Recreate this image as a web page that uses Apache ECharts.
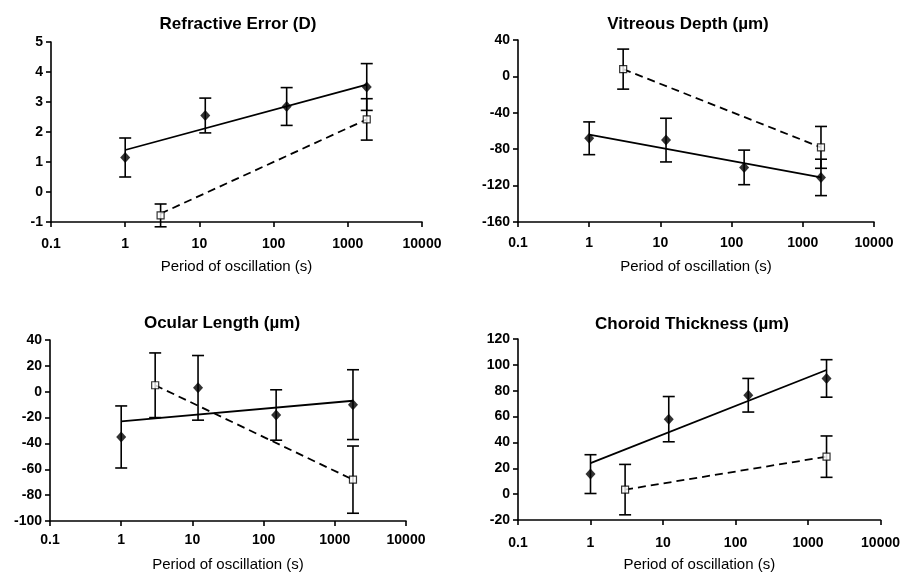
<!DOCTYPE html>
<html>
<head>
<meta charset="utf-8">
<script src="https://cdn.jsdelivr.net/npm/echarts@6/dist/echarts.min.js"></script>
<style>
  html, body { margin: 0; padding: 0; background: #fff; }
  #chart { width: 903px; height: 573px; }
</style>
</head>
<body>
<div id="chart"></div>
<script>
// periods (s) for the two groups
const periodsFilled = [1, 12, 150, 1800];
const periodsOpen = [3, 1800];
const xTicks = [0.1, 1, 10, 100, 1000, 10000];

// refractive error (D)
const refFilled = [1.15, 2.55, 2.85, 3.5];
const refFilledErr = [0.65, 0.58, 0.63, 0.78];
const refOpen = [-0.78, 2.42];
const refOpenErr = [0.38, 0.69];
const refFitFilled = [1.4, 3.58];
const refFitOpen = [-0.72, 2.42];

// vitreous depth (um)
const vitFilled = [-68, -70, -100, -111];
const vitFilledErr = [18, 24, 19, 20];
const vitOpen = [8, -78];
const vitOpenErr = [22, 23];
const vitFitFilled = [-64, -111];
const vitFitOpen = [8, -78];

// ocular length (um)
const ocuFilled = [-35, 3, -18, -10];
const ocuFilledErr = [24, 25, 19.5, 27];
const ocuOpen = [5, -68];
const ocuOpenErr = [25, 26];
const ocuFitFilled = [-23, -7];
const ocuFitOpen = [5, -68];

// choroid thickness (um)
const choFilled = [15.5, 58, 76.5, 89.5];
const choFilledErr = [15, 17.5, 13, 14.5];
const choOpen = [3.5, 29];
const choOpenErr = [19.5, 16];
const choFitFilled = [24, 96];
const choFitOpen = [3.5, 29];

const panels = [
  { title: "Refractive Error (D)", min: -1, max: 5, step: 1,
    grid: { left: 51, top: 42, width: 371, height: 180 }, tx: 233, ty: 11,
    lblMargin: 15, nameGap: 37,
    filled: refFilled, filledErr: refFilledErr, open: refOpen, openErr: refOpenErr,
    fitF: refFitFilled, fitO: refFitOpen },
  { title: "Vitreous Depth (\u00b5m)", min: -160, max: 40, step: 40,
    grid: { left: 518, top: 40, width: 356, height: 182 }, tx: 683, ty: 11,
    lblMargin: 14, nameGap: 37,
    filled: vitFilled, filledErr: vitFilledErr, open: vitOpen, openErr: vitOpenErr,
    fitF: vitFitFilled, fitO: vitFitOpen },
  { title: "Ocular Length (\u00b5m)", min: -100, max: 40, step: 20,
    grid: { left: 50, top: 340, width: 356, height: 182 }, tx: 217, ty: 310,
    lblMargin: 12, nameGap: 36,
    filled: ocuFilled, filledErr: ocuFilledErr, open: ocuOpen, openErr: ocuOpenErr,
    fitF: ocuFitFilled, fitO: ocuFitOpen },
  { title: "Choroid Thickness (\u00b5m)", min: -20, max: 120, step: 20,
    grid: { left: 518, top: 339, width: 364, height: 182 }, tx: 687, ty: 311,
    lblMargin: 16, nameGap: 37,
    filled: choFilled, filledErr: choFilledErr, open: choOpen, openErr: choOpenErr,
    fitF: choFitFilled, fitO: choFitOpen }
];

const FONT = "Liberation Sans, Arial, sans-serif";

function errorBars(api) {
  const x = api.value(0), y = api.value(1), e = api.value(2);
  const top = api.coord([x, y + e]);
  const bot = api.coord([x, y - e]);
  const half = 6;
  const style = { stroke: "#000", lineWidth: 1.6 };
  return {
    type: "group",
    children: [
      { type: "line", shape: { x1: top[0], y1: top[1], x2: bot[0], y2: bot[1] }, style },
      { type: "line", shape: { x1: top[0] - half, y1: top[1], x2: top[0] + half, y2: top[1] }, style },
      { type: "line", shape: { x1: bot[0] - half, y1: bot[1], x2: bot[0] + half, y2: bot[1] }, style }
    ]
  };
}

const option = {
  animation: false,
  title: [],
  grid: [],
  xAxis: [],
  yAxis: [],
  series: []
};

panels.forEach((p, i) => {
  option.title.push({
    text: p.title, left: p.tx, top: p.ty, textAlign: "center",
    textStyle: { fontFamily: FONT, fontSize: 17, fontWeight: "bold", color: "#000" }
  });
  option.grid.push(p.grid);
  option.xAxis.push({
    gridIndex: i, type: "log", logBase: 10, min: 0.1, max: 10000,
    name: "Period of oscillation (s)", nameLocation: "middle", nameGap: p.nameGap,
    nameTextStyle: { fontFamily: FONT, fontSize: 15, color: "#000" },
    axisLine: { onZero: false, lineStyle: { color: "#000", width: 1.6 } },
    axisTick: { inside: false, length: 5, lineStyle: { color: "#000", width: 1.6 } },
    axisLabel: {
      fontFamily: FONT, fontSize: 14, fontWeight: "bold", color: "#000", margin: p.lblMargin,
      formatter: (v) => {
        const t = xTicks.find((k) => Math.abs(Math.log10(k) - Math.log10(v)) < 1e-6);
        return t !== undefined ? String(t) : "";
      }
    },
    splitLine: { show: false }
  });
  option.yAxis.push({
    gridIndex: i, type: "value", min: p.min, max: p.max, interval: p.step,
    axisLine: { show: true, onZero: false, lineStyle: { color: "#000", width: 1.6 } },
    axisTick: { show: true, length: 5, lineStyle: { color: "#000", width: 1.6 } },
    axisLabel: { fontFamily: FONT, fontSize: 14, fontWeight: "bold", color: "#000", margin: 8 },
    splitLine: { show: false }
  });

  option.series.push(
    {
      type: "custom", xAxisIndex: i, yAxisIndex: i, renderItem: (params, api) => errorBars(api),
      data: periodsFilled.map((x, k) => [x, p.filled[k], p.filledErr[k]]), z: 2
    },
    {
      type: "custom", xAxisIndex: i, yAxisIndex: i, renderItem: (params, api) => errorBars(api),
      data: periodsOpen.map((x, k) => [x, p.open[k], p.openErr[k]]), z: 2
    },
    {
      type: "line", xAxisIndex: i, yAxisIndex: i, symbol: "none",
      lineStyle: { color: "#000", width: 1.8 },
      data: [[periodsFilled[0], p.fitF[0]], [periodsFilled[3], p.fitF[1]]], z: 3
    },
    {
      type: "line", xAxisIndex: i, yAxisIndex: i, symbol: "none",
      lineStyle: { color: "#000", width: 1.8, type: [8, 5] },
      data: [[periodsOpen[0], p.fitO[0]], [periodsOpen[1], p.fitO[1]]], z: 3
    },
    {
      type: "scatter", xAxisIndex: i, yAxisIndex: i, symbol: "diamond", symbolSize: [10, 11],
      itemStyle: { color: "#000" },
      data: periodsFilled.map((x, k) => [x, p.filled[k]]), z: 5
    },
    {
      type: "scatter", xAxisIndex: i, yAxisIndex: i, symbol: "rect", symbolSize: 7,
      itemStyle: { color: "#fff", borderColor: "#000", borderWidth: 1.2 },
      data: periodsOpen.map((x, k) => [x, p.open[k]]), z: 5
    }
  );
});

const chart = echarts.init(document.getElementById("chart"));
chart.setOption(option);
</script>
</body>
</html>
